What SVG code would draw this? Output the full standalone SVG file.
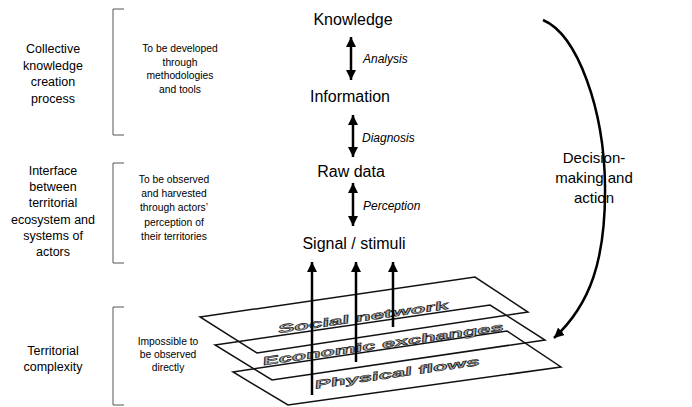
<svg xmlns="http://www.w3.org/2000/svg" width="692" height="407" viewBox="0 0 692 407">
<style>
  .main { font-family: "Liberation Sans", Arial, sans-serif; font-size: 16px; fill: #000; text-anchor: middle; }
  .rel { font-family: "Liberation Sans", Arial, sans-serif; font-size: 12px; font-style: italic; fill: #000; }
  .side { font-family: "Liberation Sans", Arial, sans-serif; font-size: 12.5px; fill: #000; text-anchor: middle; }
  .note { font-family: "Liberation Sans", Arial, sans-serif; font-size: 10.3px; fill: #000; text-anchor: middle; }
  .dec { font-family: "Liberation Sans", Arial, sans-serif; font-size: 15px; fill: #000; text-anchor: middle; }
  .bracket { fill: none; stroke: #555; stroke-width: 1; }
  .layer { fill: none; stroke: #111; stroke-width: 1.5; stroke-linejoin: miter; }
  .ltext { font-family: "Liberation Sans", Arial, sans-serif; font-size: 16px; font-weight: bold; fill: #b4b4b4; stroke: #1a1a1a; stroke-width: 0.8; text-anchor: middle; }
  .arrow { fill: none; stroke: #000; stroke-width: 2.5; }
</style>
<defs>
  <marker id="ah" markerUnits="userSpaceOnUse" markerWidth="10" markerHeight="10" viewBox="0 0 10 10" refX="10" refY="5" orient="auto-start-reverse">
    <path d="M0,0 L10,5 L0,10 z" fill="#000"/>
  </marker>
</defs>
<rect width="692" height="407" fill="#fff"/>

<!-- left column labels -->
<g id="collective">
  <text class="side" x="53" y="53">Collective</text>
  <text class="side" x="53" y="70">knowledge</text>
  <text class="side" x="53" y="86">creation</text>
  <text class="side" x="53" y="103">process</text>
</g>
<g id="interface">
  <text class="side" x="53" y="174.5">Interface</text>
  <text class="side" x="53" y="190.5">between</text>
  <text class="side" x="53" y="207">territorial</text>
  <text class="side" x="53" y="224">ecosystem and</text>
  <text class="side" x="53" y="240">systems of</text>
  <text class="side" x="53" y="256">actors</text>
</g>
<g id="territorial">
  <text class="side" x="53" y="354.5">Territorial</text>
  <text class="side" x="53" y="371">complexity</text>
</g>

<!-- brackets -->
<g id="brackets">
  <path class="bracket" d="M124,9 L113,9 L113,135 L124,135"/>
  <path class="bracket" d="M124,163 L113,163 L113,263 L124,263"/>
  <path class="bracket" d="M124,307 L113,307 L113,405 L124,405"/>
</g>

<!-- notes -->
<g id="note1">
  <text class="note" x="180" y="51.5">To be developed</text>
  <text class="note" x="180" y="65.5">through</text>
  <text class="note" x="180" y="79">methodologies</text>
  <text class="note" x="180" y="93">and tools</text>
</g>
<g id="note2">
  <text class="note" x="174" y="182.5">To be observed</text>
  <text class="note" x="174" y="196.5">and harvested</text>
  <text class="note" x="174" y="211">through actors’</text>
  <text class="note" x="174" y="225.5">perception of</text>
  <text class="note" x="174" y="240">their territories</text>
</g>
<g id="note3">
  <text class="note" x="168" y="344.5">Impossible to</text>
  <text class="note" x="168" y="357.5">be observed</text>
  <text class="note" x="168" y="370.5">directly</text>
</g>

<!-- central nodes -->
<g id="knowledge"><text class="main" x="353" y="25">Knowledge</text></g>
<g id="information"><text class="main" x="350" y="102">Information</text></g>
<g id="rawdata"><text class="main" x="351" y="177">Raw data</text></g>
<g id="signal"><text class="main" x="354" y="249">Signal / stimuli</text></g>

<!-- layers -->
<g id="layer-physical">
  <polygon class="layer" points="233,372 507,331 561,367 288,405"/>
  <text class="ltext" transform="translate(397,377) rotate(-8.2) skewX(-12) scale(1,0.72)" textLength="166" lengthAdjust="spacingAndGlyphs">Physical flows</text>
</g>
<g id="layer-economic">
  <polygon class="layer" points="215,345 490,305 545,340 272,380"/>
  <text class="ltext" transform="translate(383,348) rotate(-8.2) skewX(-12) scale(1,0.72)" textLength="243" lengthAdjust="spacingAndGlyphs">Economic exchanges</text>
</g>
<g id="layer-social">
  <polygon class="layer" points="200,317 475,277 528,312 257,353"/>
  <text class="ltext" transform="translate(363,321) rotate(-8.2) skewX(-12) scale(1,0.72)" textLength="172" lengthAdjust="spacingAndGlyphs">Social network</text>
</g>

<!-- decision label -->
<g id="decision">
  <text class="dec" x="594" y="163">Decision-</text>
  <text class="dec" x="594" y="183">making and</text>
  <text class="dec" x="594" y="203">action</text>
</g>

<!-- connectors -->
<g id="connectors">
  <line class="arrow" x1="351" y1="37" x2="351" y2="80" marker-start="url(#ah)" marker-end="url(#ah)"/>
  <line class="arrow" x1="353" y1="115" x2="353" y2="157" marker-start="url(#ah)" marker-end="url(#ah)"/>
  <line class="arrow" x1="353" y1="183" x2="353" y2="226" marker-start="url(#ah)" marker-end="url(#ah)"/>
  <line class="arrow" x1="312" y1="395" x2="312" y2="262" marker-end="url(#ah)"/>
  <line class="arrow" x1="356" y1="362" x2="356" y2="262" marker-end="url(#ah)"/>
  <line class="arrow" x1="393" y1="327" x2="393" y2="262" marker-end="url(#ah)"/>
  <path class="arrow" d="M543,20 C578,35 604,110 605,185 C606,260 590,305 554,338" marker-end="url(#ah)"/>
</g>
<g id="relation-labels">
  <text class="rel" x="363" y="63">Analysis</text>
  <text class="rel" x="362" y="142">Diagnosis</text>
  <text class="rel" x="363" y="210">Perception</text>
</g>
</svg>
